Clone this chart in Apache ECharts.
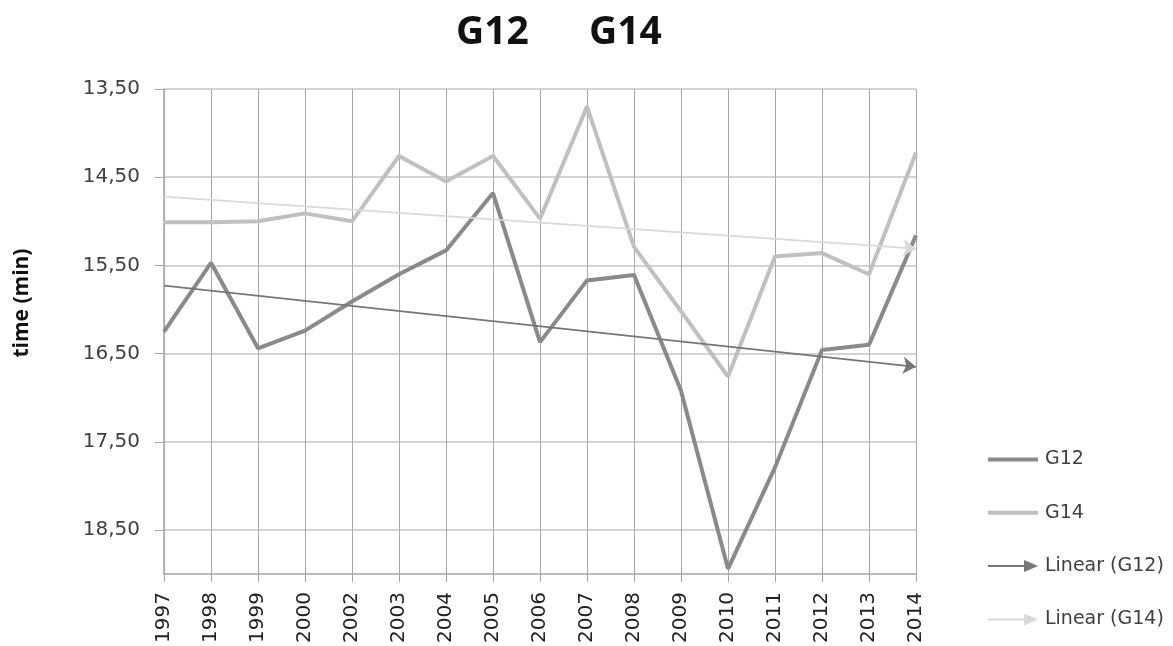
<!DOCTYPE html>
<html><head><meta charset="utf-8">
<script src="https://cdn.jsdelivr.net/npm/echarts@6/dist/echarts.min.js"></script>
<style>html,body{margin:0;padding:0;background:#fff}#c{width:1173px;height:646px}</style>
</head><body><div id="c"></div>
<script>
const categories = ['1997','1998','1999','2000','2002','2003','2004','2005','2006','2007','2008','2009','2010','2011','2012','2013','2014'];
const g12 = [16.25,15.47,16.44,16.24,15.91,15.60,15.33,14.68,16.37,15.67,15.61,16.92,18.94,17.79,16.46,16.40,15.16];
const g14 = [15.01,15.01,15.00,14.91,15.00,14.26,14.55,14.26,14.97,13.70,15.29,16.02,16.76,15.40,15.36,15.60,14.22];
const trendG12 = [15.73, 16.65];
const trendG14 = [14.72, 15.31];
const yTicks = [13.5,14.5,15.5,16.5,17.5,18.5];
const seriesNames = ['G12','G14','Linear (G12)','Linear (G14)'];

const lineIcon = 'path://M0,0 M50,14 M0,5 L50,5 L50,9 L0,9 Z';
const arrowIcon = 'path://M0,0 M50,14 M0,6 L36,6 L36,1 L50,7 L36,13 L36,8 L0,8 Z';

const chart = echarts.init(document.getElementById('c'));
function trendSeries(name, color, vals) {
  return {
    name: name, type: 'line', data: [], color: color, silent: true,
    markLine: {
      silent: true, symbol: ['none','arrow'], symbolSize: 13,
      label: {show: false}, emphasis: {disabled: true},
      lineStyle: {color: color, width: 1.8, type: 'solid'},
      data: [[{coord: [categories[0], vals[0]]}, {coord: [categories[categories.length-1], vals[1]]}]]
    }
  };
}
chart.setOption({
  animation: false,
  backgroundColor: '#ffffff',
  title: [
    {text: 'G12', left: 451, top: 8, textStyle: {fontFamily: 'Open Sans', fontWeight: 'bold', fontSize: 39, color: '#111'}},
    {text: 'G14', left: 584, top: 8, textStyle: {fontFamily: 'Open Sans', fontWeight: 'bold', fontSize: 39, color: '#111'}}
  ],
  grid: {left: 164, right: 257, top: 89, bottom: 68},
  legend: {
    orient: 'vertical', left: 983, top: 445, itemWidth: 50, itemHeight: 14, itemGap: 34.3,
    selectedMode: false,
    textStyle: {fontFamily: 'DejaVu Sans', fontSize: 19, color: '#404040', padding: [0,0,0,2]},
    data: [
      {name: seriesNames[0], icon: lineIcon},
      {name: seriesNames[1], icon: lineIcon},
      {name: seriesNames[2], icon: arrowIcon},
      {name: seriesNames[3], icon: arrowIcon}
    ]
  },
  xAxis: {
    type: 'category', data: categories, boundaryGap: false,
    axisLine: {lineStyle: {color: '#a6a6a6', width: 1.5}},
    axisTick: {show: true, length: 8, lineStyle: {color: '#a6a6a6'}},
    splitLine: {show: true, lineStyle: {color: '#a8a8a8', width: 1}},
    axisLabel: {rotate: 90, margin: 18, interval: 0, fontFamily: 'DejaVu Sans', fontSize: 20, color: '#222'}
  },
  yAxis: {
    type: 'value', inverse: true, min: 13.5, max: 19,
    name: 'time (min)', nameLocation: 'middle', nameGap: 131,
    nameTextStyle: {fontFamily: 'Open Sans', fontWeight: 'bold', fontSize: 21, color: '#111', padding: [0,0,0,57]},
    axisLine: {show: true, lineStyle: {color: '#a6a6a6', width: 1.5}},
    axisTick: {show: true, length: 9, customValues: yTicks, lineStyle: {color: '#a6a6a6'}},
    splitLine: {show: true, lineStyle: {color: '#c4c4c4', width: 1.5}},
    axisLabel: {customValues: yTicks, margin: 24, fontFamily: 'DejaVu Sans', fontSize: 20, color: '#404040',
      formatter: v => v.toFixed(2).replace('.', ',')}
  },
  series: [
    {name: seriesNames[0], type: 'line', data: g12, color: '#8a8a8a', symbol: 'none', lineStyle: {width: 4, color: '#8a8a8a'}},
    {name: seriesNames[1], type: 'line', data: g14, color: '#c0c0c0', symbol: 'none', lineStyle: {width: 4, color: '#c0c0c0'}},
    trendSeries(seriesNames[2], '#777777', trendG12),
    trendSeries(seriesNames[3], '#d9d9d9', trendG14)
  ]
});
</script></body></html>
